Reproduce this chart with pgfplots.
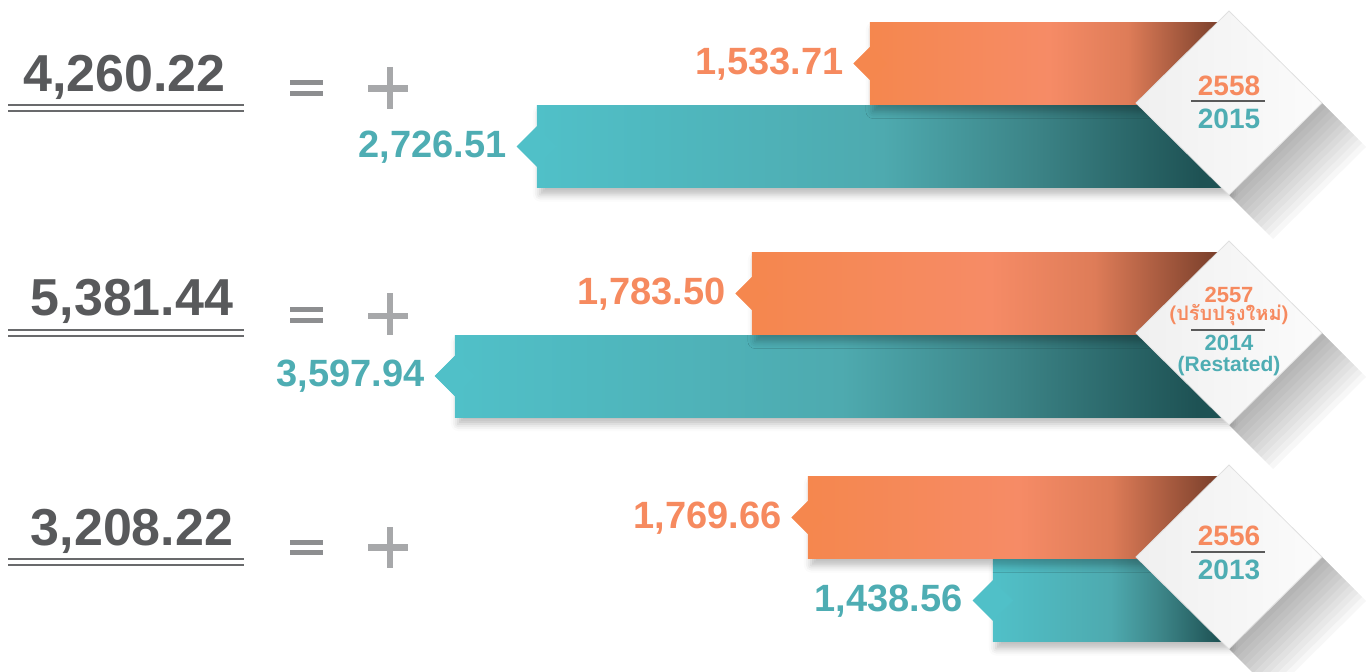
\documentclass[border=0pt]{standalone}
\usepackage{fontspec}
\setmainfont{Liberation Sans}
\newfontfamily\thaifont[Script=Thai]{Loma}
\usepackage{pgfplots}
\pgfplotsset{compat=1.18}
\usetikzlibrary{shadows.blur}

\definecolor{oA}{RGB}{245,135,78}
\definecolor{oB}{RGB}{246,139,102}
\definecolor{oC}{RGB}{222,124,88}
\definecolor{oD}{RGB}{120,62,42}
\definecolor{tA}{RGB}{80,192,200}
\definecolor{tB}{RGB}{78,170,175}
\definecolor{tC}{RGB}{60,132,135}
\definecolor{tD}{RGB}{30,82,84}
\definecolor{oLab}{RGB}{246,138,95}
\definecolor{tLab}{RGB}{78,173,179}
\definecolor{ink}{RGB}{88,89,91}
\definecolor{uline}{RGB}{105,106,108}
\definecolor{eqgray}{RGB}{141,142,144}
\definecolor{plgray}{RGB}{167,168,170}
\definecolor{frac}{RGB}{90,90,90}

% bbox of each bar maps to 25bp..75bp
\pgfdeclarehorizontalshading{obar}{100bp}{color(0bp)=(oA); color(25bp)=(oA); color(50bp)=(oB); color(61bp)=(oC); color(74bp)=(oD); color(100bp)=(oD)}
\pgfdeclarehorizontalshading{tbar}{100bp}{color(0bp)=(tA); color(25bp)=(tA); color(50bp)=(tB); color(61bp)=(tC); color(73bp)=(tD); color(100bp)=(tD)}

\tikzset{
  lab/.style={anchor=base east, inner sep=0pt, yshift=-5.25pt, font=\fontsize{19}{22}\selectfont\bfseries},
  yr/.style={inner sep=0pt, font=\fontsize{14}{16}\selectfont\bfseries},
  yrs/.style={inner sep=0pt, font=\fontsize{11}{13}\selectfont\bfseries},
}
\pgfplotsset{
  hbar/.style={xbar, bar width=82, bar shift=0pt, draw=none, shade, shading=#1, mark=none,
    blur shadow={shadow xshift=1.5pt, shadow yshift=-3.5pt, shadow blur radius=3.5pt, shadow opacity=26}},
}

\begin{document}
\begin{tikzpicture}
% bars: x is the length in px, measured leftwards from x=1228
\begin{axis}[scale only axis, width=683pt, height=335.5pt, at={(0pt,0pt)}, anchor=south west,
    xmin=-138, xmax=1228, x dir=reverse, ymin=0, ymax=671, y dir=reverse,
    hide axis, clip=false]
  % notches and value labels
  \addplot[only marks, mark=square*, mark size=7pt, mark options={rotate=45, fill=tA, draw=tA},
    point meta=explicit symbolic, nodes near coords=\pgfplotspointmeta,
    every node near coord/.append style={lab, xshift=-15pt, text=tLab}]
    coordinates {(691,146.5) [2,726.51] (773,376) [3,597.94] (235,600.5) [1,438.56]};
  \addplot[only marks, mark=square*, mark size=5.7pt, mark options={rotate=45, fill=oA, draw=oA},
    point meta=explicit symbolic, nodes near coords=\pgfplotspointmeta,
    every node near coord/.append style={lab, xshift=-13pt, text=oLab}]
    coordinates {(358,63.5) [1,533.71] (476,293.5) [1,783.50] (420,517.5) [1,769.66]};
  % one plot per bar so that each bar gets its own gradient
  \addplot[hbar=tbar] coordinates {(691,146.5)};
  \addplot[hbar=obar] coordinates {(358,63.5)};
  \addplot[hbar=tbar] coordinates {(773,376)};
  \addplot[hbar=obar] coordinates {(476,293.5)};
  \addplot[hbar=tbar] coordinates {(235,600.5)};
  \addplot[hbar=obar] coordinates {(420,517.5)};
\end{axis}

% pixel frame: (0,0) top left, (1366,671) bottom right
\begin{scope}[x=0.5pt, y=-0.5pt, yshift=335.5pt]
  % diamond shadows
  \begin{scope}
    \clip (0,0) rectangle (1366,671);
    \foreach \cy in {103,333,557}{
      \foreach \k in {4,8,...,44}{
        \fill[black, opacity=0.033] (1322,\cy) -- (1229,\cy+92) -- (1229+\k,\cy+92+\k) -- (1322+\k,\cy+\k) -- cycle;
      }
    }
  \end{scope}
  % diamonds
  \foreach \cy in {103,333,557}{
    \shadedraw[left color=black!6, right color=black!1.5, draw=black!12, line width=0.4pt]
      (1229,\cy-92) -- (1322,\cy) -- (1229,\cy+92) -- (1136,\cy) -- cycle;
  }
  \node[yr, text=oLab] at (1229,86) {2558};
  \draw[frac, line width=1.3pt] (1191,101) -- (1265,101);
  \node[yr, text=tLab] at (1229,118.5) {2015};

  \node[yrs, text=oLab] at (1229,295) {2557};
  \node[yrs, text=oLab, font=\fontsize{10}{12}\selectfont\bfseries] at (1229,315.5) {\thaifont (ปรับปรุงใหม่)};
  \draw[frac, line width=1.3pt] (1191,330) -- (1265,330);
  \node[yrs, text=tLab] at (1229,342.5) {2014};
  \node[yrs, text=tLab, font=\fontsize{10.5}{12}\selectfont\bfseries] at (1229,366) {(Restated)};

  \node[yr, text=oLab] at (1229,536) {2556};
  \draw[frac, line width=1.3pt] (1191,552) -- (1265,552);
  \node[yr, text=tLab] at (1229,570) {2013};

  % totals
  \foreach \tx/\by/\ul/\t in {124.5/92/105/{4,260.22}, 132/315/330/{5,381.44}, 132/545/559/{3,208.22}}{
    \node[anchor=base, inner sep=0pt, text=ink, font=\fontsize{26}{29}\selectfont\bfseries] at (\tx,\by) {\t};
    \draw[uline, line width=1.25pt] (8,\ul) -- (244,\ul) (8,\ul+6) -- (244,\ul+6);
  }
  % = and +
  \foreach \ea/\eb/\ph/\pa/\pb in {82.5/94/88.5/67/109, 309.5/320.5/316/293/335, 542.5/552.5/547.5/527/568}{
    \draw[eqgray, line width=2.5pt] (290,\ea) -- (323,\ea) (290,\eb) -- (323,\eb);
    \draw[plgray, line width=3.2pt] (368,\ph) -- (408,\ph) (390,\pa) -- (390,\pb);
  }
  \pgfresetboundingbox
  \useasboundingbox (0,0) rectangle (1366,671);
\end{scope}
\end{tikzpicture}
\end{document}
